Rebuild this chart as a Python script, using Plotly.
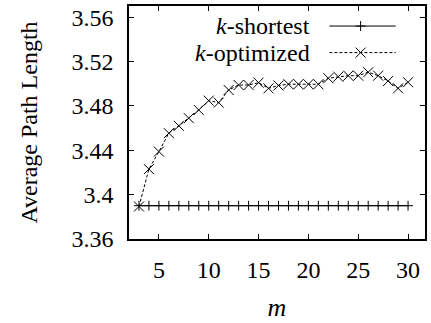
import plotly.graph_objects as go

m_values = list(range(3, 31))
k_shortest = [3.39] * len(m_values)
k_optimized = [3.3893, 3.423, 3.4388, 3.4554, 3.462, 3.4689, 3.4763, 3.4847,
               3.4829, 3.4943, 3.4988, 3.4988, 3.5009, 3.4958, 3.4984, 3.4995,
               3.4995, 3.4995, 3.4995, 3.5049, 3.5063, 3.5072, 3.5072, 3.5103,
               3.5072, 3.5024, 3.4958, 3.5013]
x_ticks = [5, 10, 15, 20, 25, 30]
y_ticks = [3.36, 3.40, 3.44, 3.48, 3.52, 3.56]
y_tick_labels = ["3.36", "3.4", "3.44", "3.48", "3.52", "3.56"]
series_names = ["<i>k</i>-shortest", "<i>k</i>-optimized"]

FONT = "Liberation Serif"

fig = go.Figure()
fig.add_trace(go.Scatter(
    x=m_values, y=k_shortest, mode="lines+markers", name=series_names[0],
    line=dict(color="black", width=1),
    marker=dict(symbol="cross-thin-open", size=7, line=dict(color="black", width=1)),
    showlegend=False,
))
fig.add_trace(go.Scatter(
    x=m_values, y=k_optimized, mode="lines+markers", name=series_names[1],
    line=dict(color="black", width=1, dash="3px,2px"),
    marker=dict(symbol="x-thin-open", size=10, line=dict(color="black", width=1)),
    showlegend=False,
))

# manual legend (text left of sample, as in the reference)
legend_rows = [0.914, 0.80]
dashes = ["solid", "3px,2px"]
for name, yy, dash, idx in zip(series_names, legend_rows, dashes, range(2)):
    fig.add_annotation(x=0.618, y=yy, xref="paper", yref="paper", text=name,
                       showarrow=False, xanchor="right", yanchor="middle",
                       font=dict(family=FONT, size=24, color="black"))
    fig.add_shape(type="line", xref="paper", yref="paper", x0=0.677, x1=0.901,
                  y0=yy, y1=yy, line=dict(color="black", width=1, dash=dash))
    if idx == 0:
        fig.add_shape(type="line", xref="paper", yref="paper", xsizemode="pixel",
                      ysizemode="pixel", xanchor=0.7825, yanchor=yy,
                      x0=-5, x1=5, y0=0, y1=0, line=dict(color="black", width=1))
        fig.add_shape(type="line", xref="paper", yref="paper", xsizemode="pixel",
                      ysizemode="pixel", xanchor=0.7825, yanchor=yy,
                      x0=0, x1=0, y0=-5, y1=5, line=dict(color="black", width=1))
    else:
        fig.add_shape(type="line", xref="paper", yref="paper", xsizemode="pixel",
                      ysizemode="pixel", xanchor=0.7825, yanchor=yy,
                      x0=-5, x1=5, y0=-5, y1=5, line=dict(color="black", width=1))
        fig.add_shape(type="line", xref="paper", yref="paper", xsizemode="pixel",
                      ysizemode="pixel", xanchor=0.7825, yanchor=yy,
                      x0=-5, x1=5, y0=5, y1=-5, line=dict(color="black", width=1))

axis_common = dict(
    showgrid=False, zeroline=False, showline=True, linecolor="black", linewidth=1.5,
    mirror="ticks", ticks="inside", ticklen=5, tickcolor="black", tickwidth=1,
    tickfont=dict(family=FONT, size=24, color="black"),
)
fig.update_xaxes(range=[2, 31.7], tickvals=x_ticks, ticklabelstandoff=8,
                 title=dict(text="<i>m</i>", font=dict(family=FONT, size=26, color="black"), standoff=16),
                 **axis_common)
fig.update_yaxes(range=[3.36, 3.57], tickvals=y_ticks, ticktext=y_tick_labels, ticklabelstandoff=9,
                 title=dict(text="Average Path Length", font=dict(family=FONT, size=24, color="black"), standoff=27),
                 **axis_common)
fig.update_layout(
    width=431, height=323,
    margin=dict(l=129, r=4, t=6, b=84),
    paper_bgcolor="white", plot_bgcolor="white",
    font=dict(family=FONT, color="black"),
)
fig.write_html("out.html", config={"displayModeBar": False},
               post_script="document.body.style.margin='0';")
